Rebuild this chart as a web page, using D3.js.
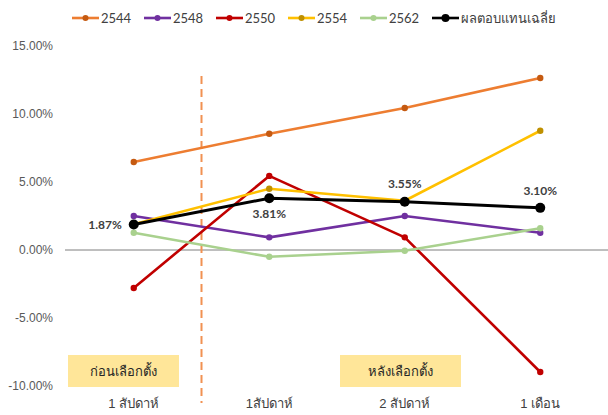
<!DOCTYPE html>
<html>
<head>
<meta charset="utf-8">
<script src="https://cdn.jsdelivr.net/npm/d3@7"></script>
<style>
  body { margin: 0; background: #fff; }
  svg { font-family: Lato, "Noto Sans", sans-serif; }
  .tick text { fill: #595959; font-size: 12px; }
  .xlab text { font-size: 13px; fill: #404040; }
</style>
</head>
<body>
<svg id="chart" width="608" height="415"></svg>
<script>
const width = 608;
const height = 415;

// data
const categories = ["1 สัปดาห์", "1สัปดาห์", "2 สัปดาห์", "1 เดือน"];
const years = ["2544", "2548", "2550", "2554", "2562"];
const v2544 = [6.47, 8.55, 10.44, 12.65];
const v2548 = [2.50, 0.93, 2.50, 1.27];
const v2550 = [-2.79, 5.45, 0.93, -8.97];
const v2554 = [1.90, 4.50, 3.62, 8.77];
const v2562 = [1.27, -0.50, -0.05, 1.60];
const vAvg = [1.87, 3.81, 3.55, 3.10];
const avgName = "ผลตอบแทนเฉลี่ย";
const yTicks = [-10, -5, 0, 5, 10, 15];
const phaseLabels = ["ก่อนเลือกตั้ง", "หลังเลือกตั้ง"];

const LINE = { "2544": "#ED7D31", "2548": "#7030A0", "2550": "#C00000", "2554": "#FFC000", "2562": "#A9D18E" };
const DOT  = { "2544": "#C55A11", "2548": "#7030A0", "2550": "#C00000", "2554": "#BF9000", "2562": "#A9D18E" };

const series = [
    { name: "2544", values: v2544 },
    { name: "2548", values: v2548 },
    { name: "2550", values: v2550 },
    { name: "2554", values: v2554 },
    { name: "2562", values: v2562 }
];

const svg = d3.select("#chart");

const x = d3.scaleBand().domain(categories).range([66, 608]);
const cx = c => x(c) + x.bandwidth() / 2;
const y = d3.scaleLinear().domain([-10, 15]).range([386, 46]);

// y axis labels
svg.append("g")
    .attr("transform", "translate(65,0)")
    .call(d3.axisLeft(y).tickValues(yTicks).tickSize(0).tickPadding(12)
        .tickFormat(d => d.toFixed(2) + "%"))
    .call(g => g.select(".domain").remove());

// x labels
svg.append("g")
    .attr("class", "xlab")
    .attr("transform", "translate(0,392)")
    .call(d3.axisBottom(x).tickSize(0).tickPadding(7))
    .call(g => g.select(".domain").remove())
    .selectAll("text").style("font-size", "13px").attr("fill", "#404040");

// zero line
svg.append("line")
    .attr("x1", 65).attr("x2", 608)
    .attr("y1", y(0)).attr("y2", y(0))
    .attr("stroke", "#7f7f7f").attr("stroke-width", 1);

// election divider
svg.append("line")
    .attr("x1", x(categories[1])).attr("x2", x(categories[1]))
    .attr("y1", 76).attr("y2", 403)
    .attr("stroke", "#F19152").attr("stroke-width", 2)
    .attr("stroke-dasharray", "8,5");

// phase boxes
const boxes = [
    { text: phaseLabels[0], x0: 68, x1: 179 },
    { text: phaseLabels[1], x0: 340, x1: 461 }
];
boxes.forEach(b => {
    svg.append("rect")
        .attr("x", b.x0).attr("y", 355)
        .attr("width", b.x1 - b.x0).attr("height", 32)
        .attr("fill", "#FFE699");
    svg.append("text")
        .attr("x", (b.x0 + b.x1) / 2).attr("y", 371)
        .attr("dy", "0.35em")
        .attr("text-anchor", "middle")
        .attr("font-size", 13)
        .attr("fill", "#262626")
        .text(b.text);
});

const line = d3.line()
    .x((d, i) => cx(categories[i]))
    .y(d => y(d));

// series lines
series.forEach(s => {
    svg.append("path")
        .datum(s.values)
        .attr("d", line)
        .attr("fill", "none")
        .attr("stroke", LINE[s.name])
        .attr("stroke-width", 2.6)
        .attr("stroke-linejoin", "round");
    svg.append("g").selectAll("circle")
        .data(s.values)
        .enter()
        .append("circle")
        .attr("cx", (d, i) => cx(categories[i]))
        .attr("cy", d => y(d))
        .attr("r", 3.2)
        .attr("fill", DOT[s.name]);
});

// average line
svg.append("path")
    .datum(vAvg)
    .attr("d", line)
    .attr("fill", "none")
    .attr("stroke", "#000")
    .attr("stroke-width", 3);
svg.append("g").selectAll("circle")
    .data(vAvg)
    .enter()
    .append("circle")
    .attr("cx", (d, i) => cx(categories[i]))
    .attr("cy", d => y(d))
    .attr("r", 5)
    .attr("fill", "#000");

// average labels
const labelPos = [
    { dx: -12, dy: 0, anchor: "end" },
    { dx: 0, dy: 16, anchor: "middle" },
    { dx: 0, dy: -18, anchor: "middle" },
    { dx: 0, dy: -17, anchor: "middle" }
];
svg.append("g").selectAll("text")
    .data(vAvg)
    .enter()
    .append("text")
    .attr("x", (d, i) => cx(categories[i]) + labelPos[i].dx)
    .attr("y", (d, i) => y(d) + labelPos[i].dy)
    .attr("dy", "0.35em")
    .attr("text-anchor", (d, i) => labelPos[i].anchor)
    .attr("font-size", 12)
    .attr("font-weight", "bold")
    .attr("fill", "#404040")
    .text(d => d.toFixed(2) + "%");

// legend
const legendItems = series.map(s => ({ name: s.name, line: LINE[s.name], dot: DOT[s.name], r: 3 }))
    .concat([{ name: avgName, line: "#000", dot: "#000", r: 4 }]);
const leg = svg.append("g").attr("transform", "translate(72,18)");
const item = leg.selectAll("g")
    .data(legendItems)
    .enter()
    .append("g")
    .attr("transform", (d, i) => `translate(${i * 72},0)`);
item.append("line")
    .attr("x1", 0).attr("x2", 27)
    .attr("stroke", d => d.line).attr("stroke-width", 2.6);
item.append("circle")
    .attr("cx", 13.5).attr("r", d => d.r).attr("fill", d => d.dot);
item.append("text")
    .attr("x", 29).attr("dy", "0.35em")
    .attr("font-size", 13)
    .attr("fill", "#404040")
    .text(d => d.name);
</script>
</body>
</html>
